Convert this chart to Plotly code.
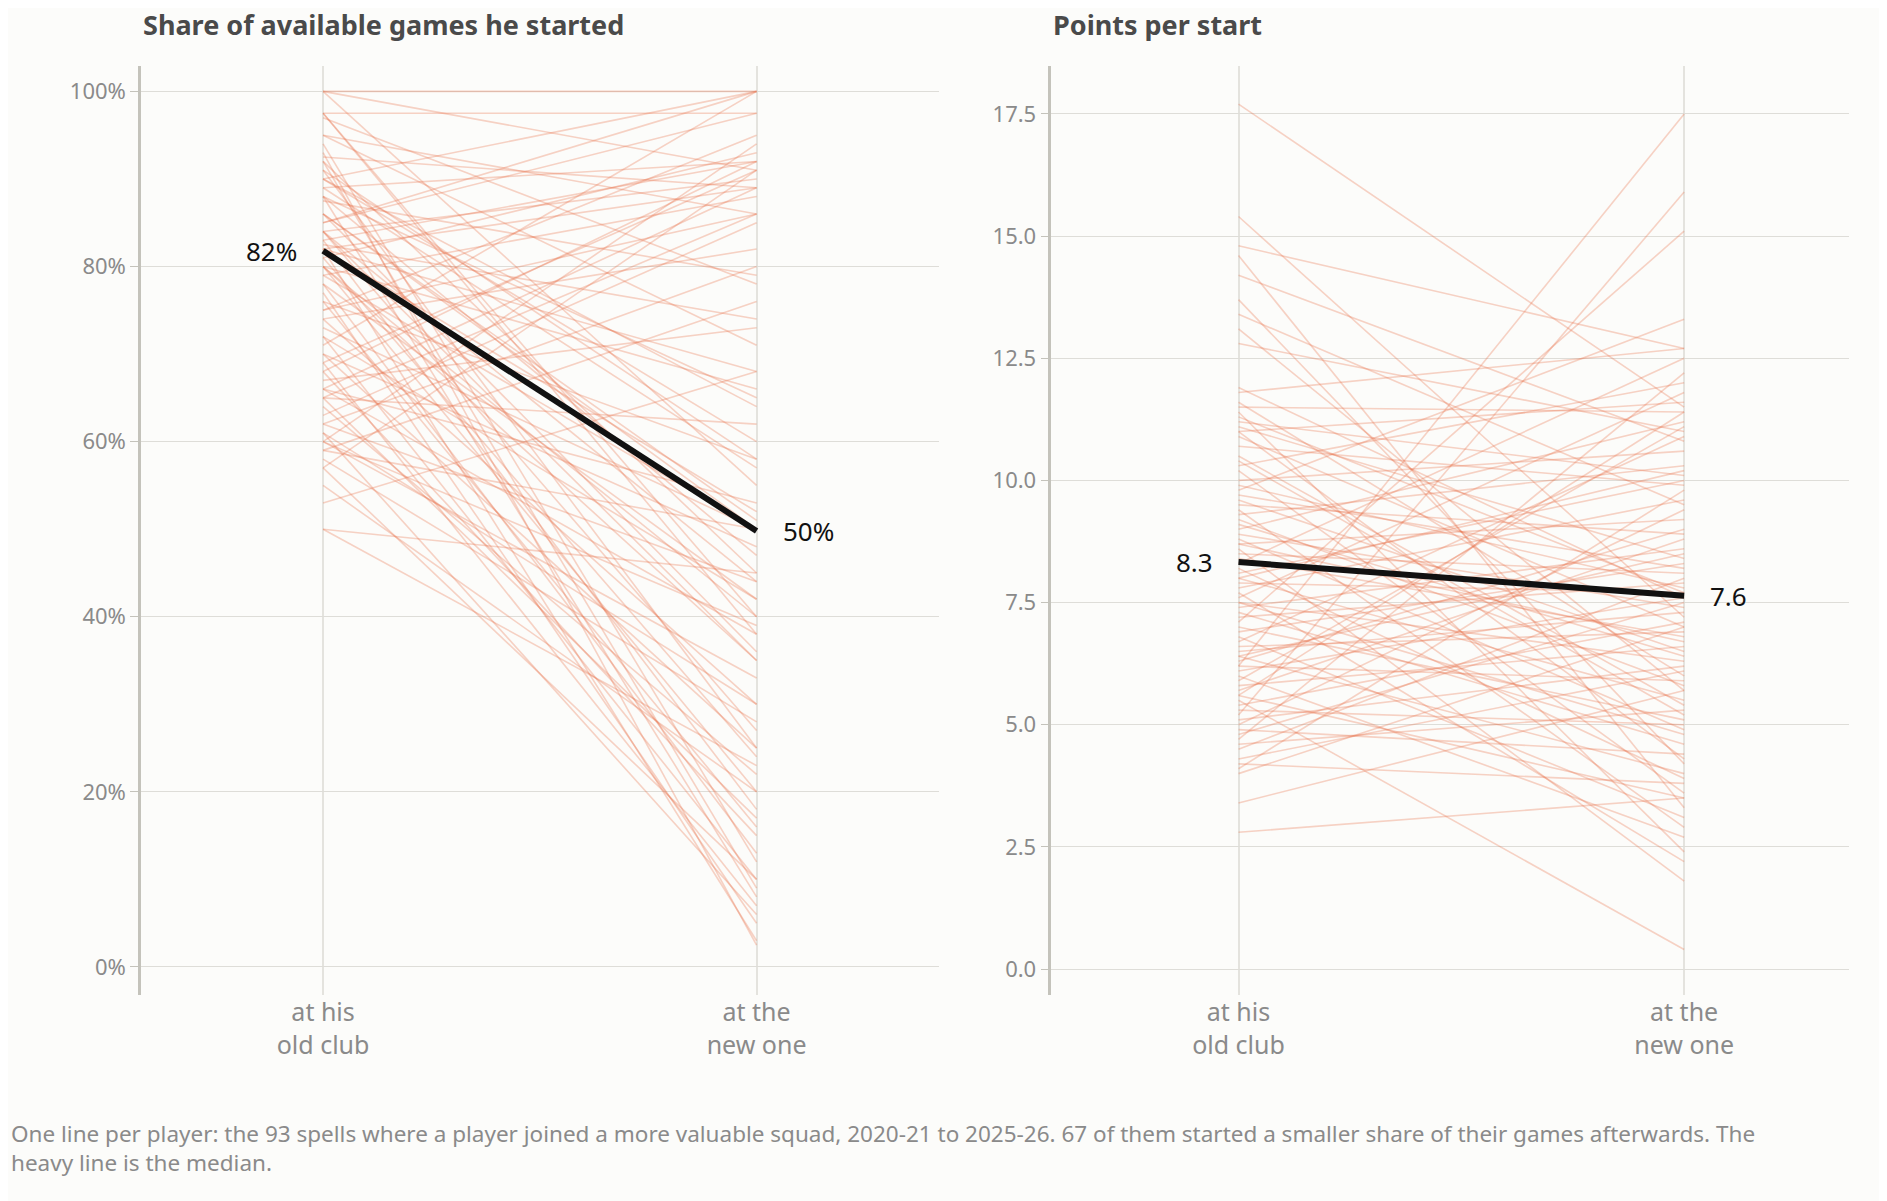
import plotly.graph_objects as go
from plotly.subplots import make_subplots

# share of available games started (percent), old club vs new club
share_old = [
    100, 100, 97.5, 97.5, 95, 94, 92.5, 92, 91, 90,
    90, 89, 88, 87.5, 86, 85, 84, 84, 83, 82.5,
    82, 82, 81, 80, 80, 79, 78, 77, 76, 75,
    74, 74, 72, 71, 70, 69, 68, 67, 66, 66,
    65, 64, 63, 62, 61, 60, 60, 59, 58, 57,
    100, 97.5, 95, 92, 90, 88, 85, 84, 82, 80,
    78, 75, 73, 70, 68, 66, 65, 62, 60, 57,
    53, 50, 97, 93, 89, 86, 83, 81, 79, 76,
    72, 69, 65, 61, 59, 55, 50, 88, 84, 82,
    80, 91, 86]
share_new = [
    100, 91, 97.5, 40, 86, 12, 89, 45, 25, 100,
    60, 92, 8, 79, 50, 97.5, 35, 90, 18, 74,
    52, 3, 93, 66, 20, 88, 42, 5, 58, 95,
    30, 82, 10, 100, 48, 91, 15, 73, 38, 89,
    62, 22, 85, 44, 6, 94, 33, 76, 28, 91,
    55, 38, 71, 9, 64, 47, 100, 27, 68, 40,
    13, 86, 50, 25, 92, 53, 17, 80, 39, 10,
    68, 45, 78, 2.5, 57, 36, 92, 24, 50, 16,
    42, 7, 86, 30, 50, 20, 23, 65, 44, 89,
    35, 58, 51]

# points per start, old club vs new club
pts_old = [
    17.7, 15.4, 14.8, 14.6, 14.2, 13.7, 13.4, 13.1, 12.8, 11.9,
    11.8, 11.6, 11.5, 11.4, 11.2, 11.1, 11.0, 11.0, 10.9, 10.7,
    10.5, 10.3, 10.2, 10.0, 9.9, 9.8, 9.6, 9.5, 9.4, 9.3,
    9.2, 9.0, 8.9, 8.8, 8.7, 8.6, 8.5, 8.4, 8.3, 8.2,
    8.1, 8.0, 7.9, 7.8, 7.7, 7.6, 7.5, 7.4, 7.3, 7.2,
    7.1, 7.0, 6.9, 6.8, 6.7, 6.6, 6.5, 6.4, 6.3, 6.2,
    6.2, 6.1, 6.0, 5.9, 5.8, 5.7, 5.6, 5.5, 5.4, 5.3,
    5.2, 5.1, 5.0, 4.9, 4.8, 4.7, 4.6, 4.5, 4.3, 4.2,
    4.1, 4.0, 3.4, 2.8, 9.1, 8.0, 10.4, 11.3, 6.4, 7.5,
    5.6, 8.7, 9.7]
pts_new = [
    11.5, 7.2, 12.7, 3.3, 10.8, 4.2, 9.5, 5.7, 11.0, 7.6,
    12.7, 6.0, 11.4, 2.4, 10.1, 8.4, 4.3, 11.6, 7.0, 9.9,
    5.4, 12.0, 3.6, 10.6, 7.8, 13.3, 6.5, 8.9, 2.9, 10.3,
    5.8, 11.2, 7.4, 4.9, 9.2, 1.8, 8.1, 6.8, 12.5, 3.9,
    10.0, 5.5, 7.7, 9.6, 2.2, 11.8, 6.3, 8.6, 4.6, 7.9,
    15.1, 5.1, 8.3, 3.1, 10.9, 6.9, 7.3, 4.0, 9.0, 17.5,
    5.9, 7.6, 2.7, 11.1, 6.6, 8.8, 3.5, 0.4, 7.1, 5.0,
    15.9, 6.2, 9.4, 4.4, 7.5, 12.2, 5.3, 8.0, 6.1, 3.8,
    9.8, 7.0, 5.7, 3.5, 6.4, 10.2, 5.2, 7.7, 8.5, 4.8,
    11.4, 6.7, 8.2]

share_median = [81.8, 49.8]
pts_median = [8.33, 7.64]

x_cats = [0, 1]
x_labels = ["at his<br>old club", "at the<br>new one"]
FONT = "Noto Sans"
BG = "#fcfcfa"
LINE = "rgba(232,110,70,0.3)"

fig = make_subplots(rows=1, cols=2, horizontal_spacing=0.066)

for col, (olds, news) in enumerate([(share_old, share_new), (pts_old, pts_new)], start=1):
    for a, b in zip(olds, news):
        fig.add_trace(go.Scatter(x=x_cats, y=[a, b], mode="lines",
                                 line=dict(color=LINE, width=1.6),
                                 hoverinfo="skip", showlegend=False), row=1, col=col)

fig.add_trace(go.Scatter(x=x_cats, y=share_median, mode="lines",
                         line=dict(color="#111111", width=6), showlegend=False), row=1, col=1)
fig.add_trace(go.Scatter(x=x_cats, y=pts_median, mode="lines",
                         line=dict(color="#111111", width=6), showlegend=False), row=1, col=2)

lab = dict(font=dict(family=FONT, size=26, color="#111111"), showarrow=False)
fig.add_annotation(x=0, y=share_median[0], text="82%", xanchor="right", xshift=-24, xref="x", yref="y", **lab)
fig.add_annotation(x=1, y=share_median[1], text="50%", xanchor="left", xshift=24, xref="x", yref="y", **lab)
fig.add_annotation(x=0, y=pts_median[0], text="8.3", xanchor="right", xshift=-24, xref="x2", yref="y2", **lab)
fig.add_annotation(x=1, y=pts_median[1], text="7.6", xanchor="left", xshift=24, xref="x2", yref="y2", **lab)

ttl = dict(font=dict(family=FONT, size=27, color="#4a4a4a"), showarrow=False,
           xanchor="left", yanchor="middle", yref="paper", y=1.0, yshift=42)
fig.add_annotation(x=0, xref="x domain", text="<b>Share of available games he started</b>", **ttl)
fig.add_annotation(x=0, xref="x2 domain", text="<b>Points per start</b>", **ttl)

fig.add_annotation(x=-0.077, y=-0.13, xref="paper", yref="paper", xanchor="left", yanchor="top",
                   align="left", showarrow=False,
                   font=dict(family=FONT, size=22.5, color="#8a8a8a"),
                   text="One line per player: the 93 spells where a player joined a more valuable squad, "
                        "2020-21 to 2025-26. 67 of them started a smaller share of their games afterwards. The"
                        "<br>heavy line is the median.")

xax = dict(tickvals=x_cats, ticktext=x_labels, showgrid=True, gridcolor="#e4e3de", gridwidth=1.5,
           zeroline=False, showline=False, ticks="",
           tickfont=dict(family=FONT, size=25, color="#8a8a8a"))
fig.update_xaxes(range=[-0.42, 1.42], row=1, col=1, **xax)
fig.update_xaxes(range=[-0.42, 1.37], row=1, col=2, **xax)

yax = dict(showgrid=True, gridcolor="#deddd8", gridwidth=1.3, zeroline=False,
           showline=True, linecolor="#c4c3bb", linewidth=2.5, ticks="outside",
           ticklen=8, tickcolor="#c4c3bb", tickwidth=1.3,
           tickfont=dict(family=FONT, size=22, color="#8a8a8a"))
fig.update_yaxes(range=[-3.2, 102.9], tickvals=[0, 20, 40, 60, 80, 100],
                 ticktext=["0%", "20%", "40%", "60%", "80%", "100%"], row=1, col=1, **yax)
fig.update_yaxes(range=[-0.53, 18.48], tickvals=[0, 2.5, 5, 7.5, 10, 12.5, 15, 17.5],
                 tickformat=".1f", row=1, col=2, **yax)

fig.update_layout(width=1887, height=1201, paper_bgcolor=BG, plot_bgcolor=BG,
                  margin=dict(l=133, r=46, t=58, b=214), font=dict(family=FONT))

fig.write_html("out.html")
